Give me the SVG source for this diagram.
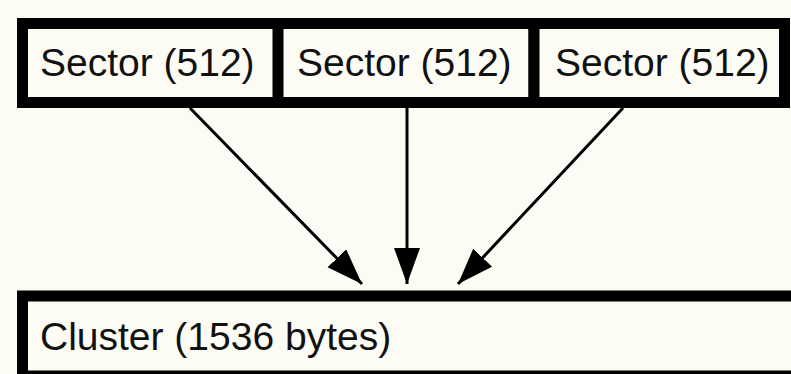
<svg xmlns="http://www.w3.org/2000/svg" width="791" height="374" viewBox="0 0 791 374">
  <style>
    .box { fill: #fdfcf4; stroke: #000; stroke-width: 11; }
    .lbl { font-family: "Liberation Sans", Arial, sans-serif; font-size: 39px; fill: #111; }
    .conn { stroke: #000; stroke-width: 3; fill: none; }
  </style>
  <defs>
    <marker id="ah" markerUnits="userSpaceOnUse" markerWidth="40" markerHeight="30" refX="36" refY="13" orient="auto">
      <path d="M0,0 L36,13 L0,26 Z" fill="#000"/>
    </marker>
  </defs>
  <rect width="791" height="374" fill="#fdfcf4"/>
  <g id="cluster">
    <rect class="box" x="22.5" y="296" width="775" height="80"/>
    <text class="lbl" x="40" y="350">Cluster (1536 bytes)</text>
  </g>
  <g id="sector1">
    <rect class="box" x="22.5" y="23.5" width="256" height="79"/>
    <text class="lbl" x="40" y="76">Sector (512)</text>
  </g>
  <g id="sector2">
    <rect class="box" x="278" y="23.5" width="256" height="79"/>
    <text class="lbl" x="297" y="76">Sector (512)</text>
  </g>
  <g id="sector3">
    <rect class="box" x="534" y="23.5" width="250.5" height="79"/>
    <text class="lbl" x="555" y="76">Sector (512)</text>
  </g>
  <g id="connectors">
    <line class="conn" x1="190" y1="108" x2="362" y2="284" marker-end="url(#ah)"/>
    <line class="conn" x1="407" y1="108" x2="407" y2="284" marker-end="url(#ah)"/>
    <line class="conn" x1="623" y1="108" x2="458" y2="284" marker-end="url(#ah)"/>
  </g>
</svg>
